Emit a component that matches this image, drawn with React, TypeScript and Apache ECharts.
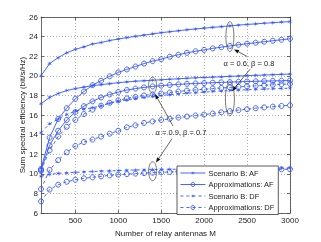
import { useEffect, useRef } from 'react';
import * as echarts from 'echarts';

const antennas = [100, 200, 300, 400, 500, 600, 700, 800, 900, 1000, 1100, 1200, 1300, 1400, 1500, 1600, 1700, 1800, 1900, 2000, 2100, 2200, 2300, 2400, 2500, 2600, 2700, 2800, 2900, 3000];
const xTicks = [500, 1000, 1500, 2000, 2500, 3000];

// alpha = 0.6, beta = 0.8
const scenAF_a = [20.0, 21.25, 21.85, 22.35, 22.7, 22.95, 23.25, 23.4, 23.6, 23.75, 23.9, 24.03, 24.15, 24.28, 24.4, 24.5, 24.6, 24.7, 24.78, 24.86, 24.94, 25.02, 25.1, 25.17, 25.24, 25.3, 25.36, 25.42, 25.48, 25.53];
const apprAF_a = [10.5, 13.7, 15.6, 16.7, 17.65, 18.4, 19.05, 19.5, 19.95, 20.35, 20.65, 20.95, 21.25, 21.5, 21.7, 21.95, 22.15, 22.35, 22.5, 22.65, 22.8, 22.92, 23.05, 23.17, 23.28, 23.38, 23.48, 23.58, 23.68, 23.78];
const scenDF_a = [14.2, 15.1, 15.6, 16.05, 16.4, 16.6, 16.75, 16.95, 17.2, 17.4, 17.55, 17.68, 17.8, 17.9, 18.0, 18.08, 18.15, 18.22, 18.28, 18.34, 18.4, 18.45, 18.5, 18.54, 18.58, 18.62, 18.65, 18.68, 18.71, 18.74];
const apprDF_a = [10.3, 12.4, 13.8, 14.8, 15.5, 16.1, 16.55, 16.95, 17.25, 17.5, 17.7, 17.85, 18.0, 18.1, 18.2, 18.3, 18.4, 18.5, 18.57, 18.63, 18.7, 18.76, 18.82, 18.88, 18.93, 18.98, 19.03, 19.08, 19.13, 19.18];
const apprDF_a2 = [8.45, 10.4, 11.4, 12.2, 12.85, 13.25, 13.5, 13.8, 14.1, 14.4, 14.75, 14.95, 15.2, 15.35, 15.5, 15.62, 15.74, 15.85, 15.95, 16.05, 16.15, 16.28, 16.4, 16.5, 16.6, 16.7, 16.78, 16.86, 16.93, 17.0];
// alpha = 0.9, beta = 0.7
const scenAF_b = [17.15, 17.8, 18.2, 18.5, 18.7, 18.85, 19.0, 19.1, 19.2, 19.3, 19.38, 19.45, 19.5, 19.55, 19.6, 19.65, 19.7, 19.75, 19.8, 19.83, 19.87, 19.9, 19.95, 19.98, 20.02, 20.05, 20.08, 20.12, 20.15, 20.18];
const apprAF_b = [10.4, 12.9, 14.4, 15.5, 16.3, 16.9, 17.4, 17.8, 18.1, 18.35, 18.55, 18.7, 18.82, 18.92, 19.0, 19.07, 19.13, 19.18, 19.22, 19.26, 19.3, 19.33, 19.36, 19.39, 19.42, 19.44, 19.46, 19.48, 19.5, 19.52];
const scenDF_b = [9.75, 9.95, 10.05, 10.1, 10.15, 10.2, 10.24, 10.28, 10.31, 10.34, 10.37, 10.4, 10.42, 10.44, 10.46, 10.47, 10.48, 10.5, 10.51, 10.52, 10.53, 10.54, 10.55, 10.56, 10.57, 10.58, 10.58, 10.59, 10.6, 10.6];
const apprDF_b = [7.2, 8.4, 8.9, 9.2, 9.4, 9.55, 9.65, 9.75, 9.85, 9.92, 9.98, 10.03, 10.08, 10.12, 10.16, 10.19, 10.22, 10.25, 10.28, 10.3, 10.32, 10.34, 10.36, 10.38, 10.4, 10.42, 10.43, 10.45, 10.46, 10.48];

const legendNames = ['Scenario B: AF', 'Approximations: AF', 'Scenario B: DF', 'Approximations: DF'];

// annotation anchors in data coordinates
const ellipses = [
  { at: [2300, 24.0], rx: 4, ry: 15 },
  { at: [2300, 17.65], rx: 4.5, ry: 17 },
  { at: [1400, 19.05], rx: 4, ry: 8 },
  { at: [1400, 10.27], rx: 4, ry: 9.5 },
];
const arrows = [
  { from: [2500, 21.98], to: [2348, 22.69] },
  { from: [2534, 20.67], to: [2325, 18.44] },
  { from: [1637, 14.9], to: [1428, 18.14] },
  { from: [1626, 13.59], to: [1439, 11.16] },
];
const labels = [
  { at: [2522, 21.3], text: 'α = 0.6, β = 0.8' },
  { at: [1730, 14.2], text: 'α = 0.9, β = 0.7' },
];

const BLUE = '#3355ff';
const STAR = 'path://M0,-5 L0.65,-1.13 L4.33,-2.5 L1.3,0 L4.33,2.5 L0.65,1.13 L0,5 L-0.65,1.13 L-4.33,2.5 L-1.3,0 L-4.33,-2.5 L-0.65,-1.13 Z';
const FONT = 'Liberation Sans, Arial, sans-serif';
const starStyle = { color: BLUE, borderWidth: 0 };
const circleStyle = { color: 'rgba(255,255,255,0)', borderColor: BLUE, borderWidth: 0.9 };

function mk(name: string, vals: number[], star: boolean, dashed: boolean) {
  return {
    name,
    type: 'line',
    color: BLUE,
    data: antennas.map((m, i) => [m, vals[i]]),
    symbol: star ? STAR : 'circle',
    symbolSize: 5,
    showAllSymbol: true,
    lineStyle: { color: BLUE, width: 0.9, type: dashed ? [3, 3] : 'solid' },
    itemStyle: star ? starStyle : circleStyle,
    emphasis: { disabled: true },
  };
}

export default function App() {
  const ref = useRef<HTMLDivElement>(null);
  useEffect(() => {
    const chart = echarts.init(ref.current!, null, { renderer: 'svg' });
    const axisLine = { show: true, lineStyle: { color: '#444', width: 0.8 } };
    const tickStyle = { lineStyle: { color: '#444', width: 0.8 } };
    chart.setOption({
      animation: false,
      grid: { left: 41, right: 31, top: 17, bottom: 27 },
      legend: {
        data: legendNames.map((n, i) => ({
          name: n,
          itemStyle: i % 2 === 0 ? starStyle : circleStyle,
          lineStyle: { color: BLUE, width: 0.9, type: i < 2 ? 'solid' : [3, 3] },
        })),
        orient: 'vertical',
        left: 177,
        top: 166,
        itemWidth: 25,
        itemHeight: 5,
        itemGap: 1.5,
        padding: [2, 4, 2, 3],
        backgroundColor: '#fff',
        borderColor: '#333',
        borderWidth: 0.8,
        textStyle: { fontSize: 7.5, color: '#222', fontFamily: FONT, lineHeight: 10, padding: [0, 0, 0, -2] },
      },
      xAxis: [
        {
          type: 'value', min: 100, max: 3000, position: 'bottom',
          name: 'Number of relay antennas M', nameLocation: 'middle', nameGap: 11,
          nameTextStyle: { fontSize: 8, color: '#222', fontFamily: FONT },
          axisLine, axisTick: { show: true, inside: true, length: 3, customValues: xTicks, ...tickStyle },
          axisLabel: { customValues: xTicks, fontSize: 8, color: '#222', margin: 3, fontFamily: FONT, formatter: (v: number) => String(v) },
          splitLine: { show: true, lineStyle: { type: [1, 2], color: '#999', width: 0.8 } },
        },
        {
          type: 'value', min: 100, max: 3000, position: 'top',
          axisLine, axisTick: { show: true, inside: true, length: 3, customValues: xTicks, ...tickStyle },
          axisLabel: { show: false }, splitLine: { show: false },
        },
      ],
      yAxis: [
        {
          type: 'value', min: 6, max: 26, interval: 2, position: 'left',
          name: 'Sum spectral efficiency (bit/s/Hz)', nameLocation: 'middle', nameGap: 15, nameMoveOverlap: false,
          nameTextStyle: { fontSize: 8, color: '#222', fontFamily: FONT },
          axisLine, axisTick: { show: true, inside: true, length: 3, ...tickStyle },
          axisLabel: { fontSize: 8, color: '#222', margin: 3, fontFamily: FONT },
          splitLine: { show: true, lineStyle: { type: [1, 2], color: '#999', width: 0.8 } },
        },
        {
          type: 'value', min: 6, max: 26, interval: 2, position: 'right',
          axisLine, axisTick: { show: true, inside: true, length: 3, ...tickStyle },
          axisLabel: { show: false }, splitLine: { show: false },
        },
      ],
      series: [
        mk('Scenario B: AF', scenAF_a, true, false),
        mk('Approximations: AF', apprAF_a, false, false),
        mk('Scenario B: AF', scenAF_b, true, false),
        mk('Approximations: AF', apprAF_b, false, false),
        mk('Scenario B: DF', scenDF_a, true, true),
        mk('Approximations: DF', apprDF_a, false, true),
        mk('Approximations: DF', apprDF_a2, false, true),
        mk('Scenario B: DF', scenDF_b, true, true),
        mk('Approximations: DF', apprDF_b, false, true),
      ],
    });

    const px = (p: number[]) => chart.convertToPixel({ xAxisIndex: 0, yAxisIndex: 0 }, p) as number[];
    const graphics: any[] = [];
    ellipses.forEach((e) => {
      const c = px(e.at);
      graphics.push({ type: 'ellipse', shape: { cx: c[0], cy: c[1], rx: e.rx, ry: e.ry }, style: { fill: 'none', stroke: '#555', lineWidth: 0.8 }, z: 10 });
    });
    arrows.forEach((a) => {
      const f = px(a.from);
      const t = px(a.to);
      const dx = t[0] - f[0], dy = t[1] - f[1];
      const len = Math.hypot(dx, dy);
      const ux = dx / len, uy = dy / len;
      const hl = 5, hw = 2;
      const bx = t[0] - ux * hl, by = t[1] - uy * hl;
      graphics.push({ type: 'line', shape: { x1: f[0], y1: f[1], x2: bx, y2: by }, style: { stroke: '#222', lineWidth: 0.7 }, z: 10 });
      graphics.push({ type: 'polygon', shape: { points: [[t[0], t[1]], [bx - uy * hw, by + ux * hw], [bx + uy * hw, by - ux * hw]] }, style: { fill: '#111' }, z: 10 });
    });
    labels.forEach((l) => {
      const c = px(l.at);
      graphics.push({ type: 'text', x: c[0], y: c[1], style: { text: l.text, fill: '#222', fontSize: 7.5, fontFamily: FONT, align: 'center', verticalAlign: 'middle' }, z: 10 });
    });
    chart.setOption({ graphic: graphics });
    return () => chart.dispose();
  }, []);
  return <div ref={ref} style={{ position: 'fixed', left: 0, top: 0, width: 321, height: 242 }} />;
}
